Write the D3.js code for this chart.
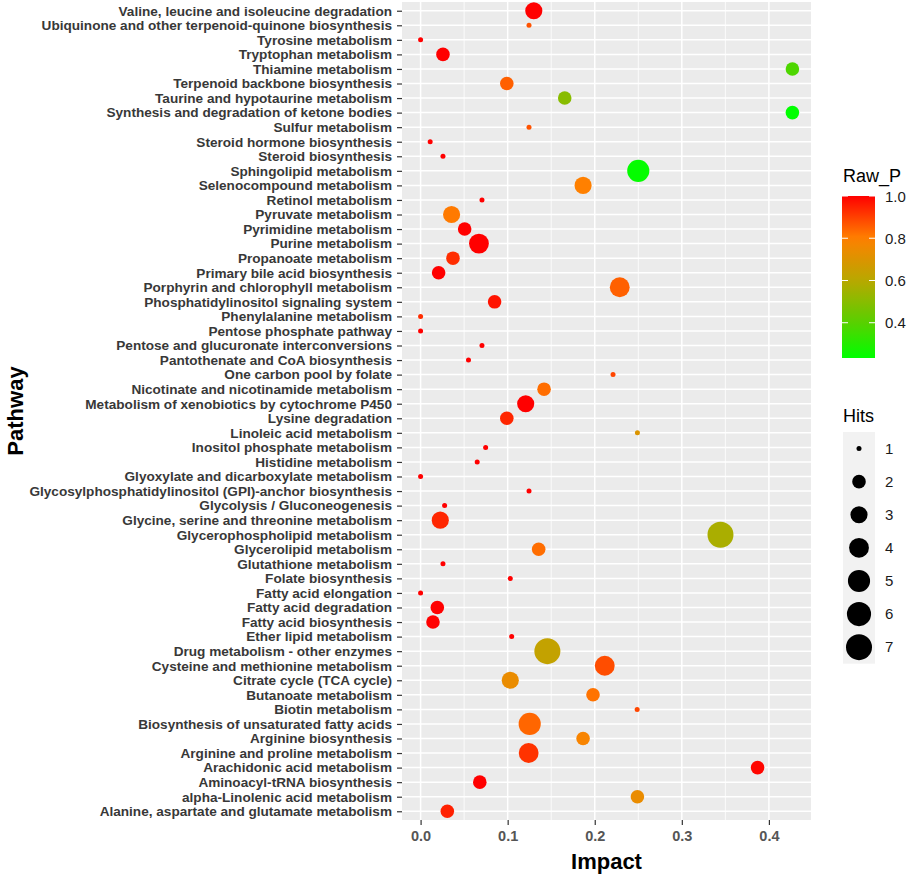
<!DOCTYPE html>
<html>
<head>
<meta charset="utf-8">
<script src="https://cdn.jsdelivr.net/npm/d3@7"></script>
<style>
  body { margin: 0; background: #fff; }
  text { font-family: "Liberation Sans", Arial, sans-serif; }
</style>
</head>
<body>
<div id="chart"></div>
<script>
// Pathways listed top to bottom as they appear on the y axis
const pathways = [
  "Valine, leucine and isoleucine degradation",
  "Ubiquinone and other terpenoid-quinone biosynthesis",
  "Tyrosine metabolism",
  "Tryptophan metabolism",
  "Thiamine metabolism",
  "Terpenoid backbone biosynthesis",
  "Taurine and hypotaurine metabolism",
  "Synthesis and degradation of ketone bodies",
  "Sulfur metabolism",
  "Steroid hormone biosynthesis",
  "Steroid biosynthesis",
  "Sphingolipid metabolism",
  "Selenocompound metabolism",
  "Retinol metabolism",
  "Pyruvate metabolism",
  "Pyrimidine metabolism",
  "Purine metabolism",
  "Propanoate metabolism",
  "Primary bile acid biosynthesis",
  "Porphyrin and chlorophyll metabolism",
  "Phosphatidylinositol signaling system",
  "Phenylalanine metabolism",
  "Pentose phosphate pathway",
  "Pentose and glucuronate interconversions",
  "Pantothenate and CoA biosynthesis",
  "One carbon pool by folate",
  "Nicotinate and nicotinamide metabolism",
  "Metabolism of xenobiotics by cytochrome P450",
  "Lysine degradation",
  "Linoleic acid metabolism",
  "Inositol phosphate metabolism",
  "Histidine metabolism",
  "Glyoxylate and dicarboxylate metabolism",
  "Glycosylphosphatidylinositol (GPI)-anchor biosynthesis",
  "Glycolysis / Gluconeogenesis",
  "Glycine, serine and threonine metabolism",
  "Glycerophospholipid metabolism",
  "Glycerolipid metabolism",
  "Glutathione metabolism",
  "Folate biosynthesis",
  "Fatty acid elongation",
  "Fatty acid degradation",
  "Fatty acid biosynthesis",
  "Ether lipid metabolism",
  "Drug metabolism - other enzymes",
  "Cysteine and methionine metabolism",
  "Citrate cycle (TCA cycle)",
  "Butanoate metabolism",
  "Biotin metabolism",
  "Biosynthesis of unsaturated fatty acids",
  "Arginine biosynthesis",
  "Arginine and proline metabolism",
  "Arachidonic acid metabolism",
  "Aminoacyl-tRNA biosynthesis",
  "alpha-Linolenic acid metabolism",
  "Alanine, aspartate and glutamate metabolism"
];

const impact = [
  0.130, 0.1245, 0.0, 0.0257, 0.427, 0.099, 0.1655, 0.427, 0.1245, 0.011,
  0.0257, 0.250, 0.1866, 0.0705, 0.0356, 0.0506, 0.067, 0.0372, 0.0207, 0.2287,
  0.085, 0.0, 0.0, 0.0705, 0.055, 0.221, 0.1418, 0.1207, 0.099, 0.249,
  0.0747, 0.065, 0.0, 0.1245, 0.0276, 0.0226, 0.3444, 0.1356, 0.0257, 0.103,
  0.0, 0.0192, 0.0142, 0.1046, 0.1456, 0.2115, 0.103, 0.198, 0.2487, 0.1253,
  0.1866, 0.1241, 0.387, 0.068, 0.249, 0.0307
];

const hits = [
  3, 1, 1, 2, 2, 2, 2, 2, 1, 1,
  1, 5, 3, 1, 3, 2, 4, 2, 2, 4,
  2, 1, 1, 1, 1, 1, 2, 3, 2, 1,
  1, 1, 1, 1, 1, 3, 7, 2, 1, 1,
  1, 2, 2, 1, 7, 4, 3, 2, 1, 5,
  2, 4, 2, 2, 2, 2
];

const rawP = [
  1.0, 0.87, 1.0, 1.0, 0.38, 0.85, 0.50, 0.233, 0.87, 1.0,
  1.0, 0.24, 0.80, 1.0, 0.81, 1.0, 1.0, 0.93, 1.0, 0.85,
  0.97, 0.93, 1.0, 1.0, 1.0, 0.89, 0.83, 1.0, 0.94, 0.70,
  1.0, 1.0, 1.0, 1.0, 1.0, 0.94, 0.57, 0.83, 1.0, 1.0,
  1.0, 1.0, 1.0, 1.0, 0.63, 0.88, 0.74, 0.82, 0.89, 0.84,
  0.78, 0.92, 0.99, 1.0, 0.74, 0.95
];

const xTicks = [0.0, 0.1, 0.2, 0.3, 0.4];
const xMinor = [0.05, 0.15, 0.25, 0.35];
const pTicks = [0.4, 0.6, 0.8, 1.0];
const hitLevels = [1, 2, 3, 4, 5, 6, 7];
// colour ramp stops (Raw_P value -> colour), low end set from the data minimum
const rampStops = [0.4, 0.6, 0.8, 1.0];
const rampColors = ["#00ff00", "#58d000", "#b8a800", "#ff8000", "#ff0000"];

const data = pathways.map((p, i) => ({ name: p, impact: impact[i], hits: hits[i], p: rawP[i] }));

const width = 913, height = 876;
const panel = { left: 402, right: 811, top: 2, bottom: 820 };

const svg = d3.select("#chart")
    .append("svg")
    .attr("width", width)
    .attr("height", height);

// Scales (ggplot style 5% expansion on x, 0.6 step padding on the discrete y)
const [xMin, xMax] = d3.extent(impact);
const pad = (xMax - xMin) * 0.05;
const x = d3.scaleLinear()
    .domain([xMin - pad, xMax + pad])
    .range([panel.left, panel.right]);

const y = d3.scalePoint()
    .domain(pathways)
    .range([panel.top, panel.bottom])
    .padding(0.6);

const minHits = d3.min(hits), maxHits = d3.max(hits);
const size = d3.scaleSqrt()
    .domain([0, maxHits - minHits])
    .range([2.5, 13]);

const [pMin, pMax] = d3.extent(rawP);
const color = d3.scaleLinear()
    .domain([pMin].concat(rampStops))
    .range(rampColors)
    .interpolate(d3.interpolateRgb);

// Panel background and grid
svg.append("rect")
    .attr("x", panel.left)
    .attr("y", panel.top)
    .attr("width", panel.right - panel.left)
    .attr("height", panel.bottom - panel.top)
    .attr("fill", "#ebebeb");

svg.append("g").selectAll("line")
    .data(xMinor)
    .enter().append("line")
        .attr("x1", d => x(d)).attr("x2", d => x(d))
        .attr("y1", panel.top).attr("y2", panel.bottom)
        .style("stroke", "#fff")
        .style("stroke-width", 0.8);

svg.append("g").selectAll("line")
    .data(xTicks)
    .enter().append("line")
        .attr("x1", d => x(d)).attr("x2", d => x(d))
        .attr("y1", panel.top).attr("y2", panel.bottom)
        .style("stroke", "#fff")
        .style("stroke-width", 1.5);

svg.append("g").selectAll("line")
    .data(pathways)
    .enter().append("line")
        .attr("x1", panel.left).attr("x2", panel.right)
        .attr("y1", d => y(d)).attr("y2", d => y(d))
        .style("stroke", "#fff")
        .style("stroke-width", 1.5);

// Points
svg.append("g").selectAll("circle")
    .data(data)
    .enter().append("circle")
        .attr("cx", d => x(d.impact))
        .attr("cy", d => y(d.name))
        .attr("r", d => size(d.hits - minHits))
        .style("fill", d => color(d.p));

// Axes
const yAxis = svg.append("g")
    .attr("transform", `translate(${panel.left},0)`)
    .call(d3.axisLeft(y).tickSize(5).tickPadding(5));
yAxis.select(".domain").remove();
yAxis.selectAll("line").style("stroke", "#333").style("stroke-width", 1.2);
yAxis.selectAll("text")
    .style("font-size", "13.6px")
    .style("font-weight", "bold")
    .style("fill", "#383838")
    .style("font-family", "'Liberation Sans', Arial, sans-serif");

const xAxis = svg.append("g")
    .attr("transform", `translate(0,${panel.bottom})`)
    .call(d3.axisBottom(x).tickValues(xTicks).tickFormat(d3.format(".1f")).tickSize(5).tickPadding(6));
xAxis.select(".domain").remove();
xAxis.selectAll("line").style("stroke", "#333").style("stroke-width", 1.2);
xAxis.selectAll("text")
    .style("font-size", "14.5px")
    .style("font-weight", "bold")
    .style("fill", "#555")
    .style("font-family", "'Liberation Sans', Arial, sans-serif");

svg.append("text")
    .attr("x", (panel.left + panel.right) / 2)
    .attr("y", 869)
    .attr("text-anchor", "middle")
    .style("font-size", "22px")
    .style("font-weight", "bold")
    .style("fill", "#000")
    .text("Impact");

svg.append("text")
    .attr("transform", `translate(23,${(panel.top + panel.bottom) / 2}) rotate(-90)`)
    .attr("text-anchor", "middle")
    .style("font-size", "22px")
    .style("font-weight", "bold")
    .style("fill", "#000")
    .text("Pathway");

// Colour bar legend
const bar = { x: 842, w: 33, top: 196, bottom: 358 };
const pY = d3.scaleLinear().domain([pMin, pMax]).range([bar.bottom, bar.top]);

const grad = svg.append("defs").append("linearGradient")
    .attr("id", "pgrad")
    .attr("x1", 0).attr("y1", 1).attr("x2", 0).attr("y2", 0);
grad.selectAll("stop")
    .data(d3.range(0, 1.0001, 0.05))
    .enter().append("stop")
        .attr("offset", d => d)
        .attr("stop-color", d => color(pMin + d * (pMax - pMin)));

svg.append("text")
    .attr("x", 843).attr("y", 182)
    .style("font-size", "18px")
    .style("fill", "#000")
    .text("Raw_P");

svg.append("rect")
    .attr("x", bar.x).attr("y", bar.top)
    .attr("width", bar.w).attr("height", bar.bottom - bar.top)
    .attr("fill", "url(#pgrad)");

const pTick = svg.append("g").selectAll("g")
    .data(pTicks)
    .enter().append("g");
pTick.append("line")
    .attr("x1", bar.x).attr("x2", bar.x + 6)
    .attr("y1", d => pY(d)).attr("y2", d => pY(d))
    .style("stroke", "#fff").style("stroke-width", 1);
pTick.append("line")
    .attr("x1", bar.x + bar.w - 6).attr("x2", bar.x + bar.w)
    .attr("y1", d => pY(d)).attr("y2", d => pY(d))
    .style("stroke", "#fff").style("stroke-width", 1);
pTick.append("text")
    .attr("x", 885)
    .attr("y", d => pY(d))
    .attr("dy", "0.38em")
    .style("font-size", "15px")
    .style("fill", "#1a1a1a")
    .text(d => d3.format(".1f")(d));

// Size legend
svg.append("text")
    .attr("x", 843).attr("y", 422)
    .style("font-size", "18px")
    .style("fill", "#000")
    .text("Hits");

const keyTop = 432, keyStep = 33.1;
svg.append("rect")
    .attr("x", 843).attr("y", keyTop)
    .attr("width", 32).attr("height", keyStep * hitLevels.length)
    .attr("fill", "#f2f2f2");

const key = svg.append("g").selectAll("g")
    .data(hitLevels)
    .enter().append("g")
    .attr("transform", (d, i) => `translate(859,${keyTop + keyStep * (i + 0.5)})`);
key.append("circle")
    .attr("r", d => size(d - minHits))
    .style("fill", "#000");
key.append("text")
    .attr("x", 26)
    .attr("dy", "0.35em")
    .style("font-size", "15px")
    .style("fill", "#1a1a1a")
    .text(d => d);
</script>
</body>
</html>
